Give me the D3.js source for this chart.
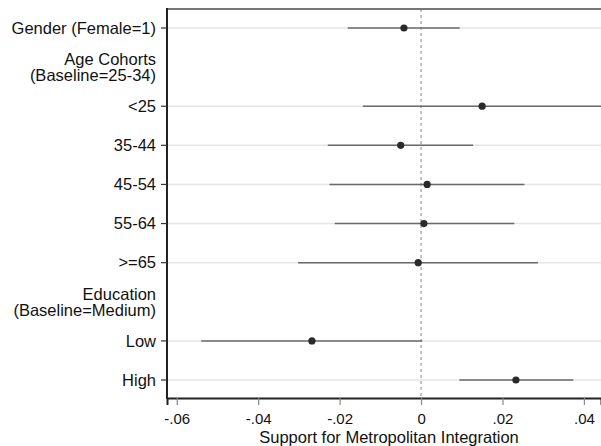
<!DOCTYPE html>
<html><head><meta charset="utf-8">
<script src="https://cdn.jsdelivr.net/npm/d3@7"></script>
<style>body{margin:0;background:#fff}svg{display:block}text{font-family:"Liberation Sans",Arial,sans-serif;fill:#111}</style>
</head><body><svg id="c" width="601" height="446"></svg>
<script>
const rows = ["Gender (Female=1)", "Age Cohorts|(Baseline=25-34)", "<25", "35-44", "45-54", "55-64", ">=65", "Education|(Baseline=Medium)", "Low", "High"];
const terms = ["Gender (Female=1)", "<25", "35-44", "45-54", "55-64", ">=65", "Low", "High"];
const estimates = [-0.0042, 0.0150, -0.0050, 0.0015, 0.0007, -0.0007, -0.0268, 0.0233];
const lower = [-0.0180, -0.0143, -0.0229, -0.0225, -0.0212, -0.0302, -0.0540, 0.0094];
const upper = [0.0095, 0.0460, 0.0128, 0.0254, 0.0229, 0.0287, 0.0003, 0.0374];
const xTicks = [-0.06, -0.04, -0.02, 0, 0.02, 0.04];
const xTickLabels = ["-.06", "-.04", "-.02", "0", ".02", ".04"];
const xTitle = "Support for Metropolitan Integration";

const svg = d3.select("#c");
const L = 167, R = 601, T = 9, B = 398;
const FS = 16.5;
const x = d3.scaleLinear().domain([-0.0624, 0.0442]).range([L, R]);
const y = d3.scalePoint().domain(rows).range([28, 380]);

svg.append("defs").append("clipPath").attr("id","clip").append("rect")
  .attr("x", L).attr("y", T).attr("width", R - L).attr("height", B - T);

// grid lines for coefficient rows
svg.append("g").selectAll("line").data(terms).join("line")
  .attr("x1", L).attr("x2", R).attr("y1", d => y(d)).attr("y2", d => y(d))
  .attr("stroke", "#e6e6e6").attr("stroke-width", 1.5);

// zero line
svg.append("line").attr("x1", x(0)).attr("x2", x(0)).attr("y1", T).attr("y2", B)
  .attr("stroke", "#9a9a9a").attr("stroke-width", 1.2).attr("stroke-dasharray", "3,3");

const data = terms.map((t, i) => ({t, e: estimates[i], lo: lower[i], hi: upper[i]}));
const g = svg.append("g").attr("clip-path", "url(#clip)");
g.selectAll("line.ci").data(data).join("line").attr("class","ci")
  .attr("x1", d => x(d.lo)).attr("x2", d => x(d.hi))
  .attr("y1", d => y(d.t)).attr("y2", d => y(d.t))
  .attr("stroke", "#6a6a6a").attr("stroke-width", 1.5);
g.selectAll("circle").data(data).join("circle")
  .attr("cx", d => x(d.e)).attr("cy", d => y(d.t)).attr("r", 3.6)
  .attr("fill", "#2a2a2a");

// top border
svg.append("line").attr("x1", L).attr("x2", R).attr("y1", T).attr("y2", T)
  .attr("stroke", "#777").attr("stroke-width", 2);

// x axis
const xa = svg.append("g").attr("transform", `translate(0,${B})`)
  .call(d3.axisBottom(x).tickValues(xTicks).tickSize(7)
    .tickFormat((d, i) => xTickLabels[i]));
xa.select(".domain").attr("stroke", "#222").attr("stroke-width", 2);
xa.selectAll(".tick line").attr("stroke", "#888").attr("stroke-width", 1.2);
xa.selectAll(".tick text").attr("font-size", 15).attr("fill", "#111")
  .attr("font-family", "Liberation Sans, Arial, sans-serif").attr("y", 25.5).attr("dy", 0);
svg.append("text").attr("x", 389).attr("y", 443).attr("text-anchor", "middle")
  .attr("font-size", FS).text(xTitle);

// y axis
svg.append("line").attr("x1", L).attr("x2", L).attr("y1", T - 1).attr("y2", B + 1)
  .attr("stroke", "#222").attr("stroke-width", 2);
const yl = svg.append("g");
rows.forEach(r => {
  const parts = r.split("|");
  const yy = y(r);
  if (parts.length === 1) {
    yl.append("line").attr("x1", L - 6).attr("x2", L).attr("y1", yy).attr("y2", yy)
      .attr("stroke", "#333").attr("stroke-width", 1.2);
    yl.append("text").attr("x", 156).attr("y", yy).attr("dy", "0.35em")
      .attr("text-anchor", "end").attr("font-size", FS).text(parts[0]);
  } else {
    parts.forEach((p, k) => {
      yl.append("text").attr("x", 156).attr("y", yy - 8 + k * 16.5).attr("dy", "0.35em")
        .attr("text-anchor", "end").attr("font-size", FS).text(p);
    });
  }
});
</script></body></html>
